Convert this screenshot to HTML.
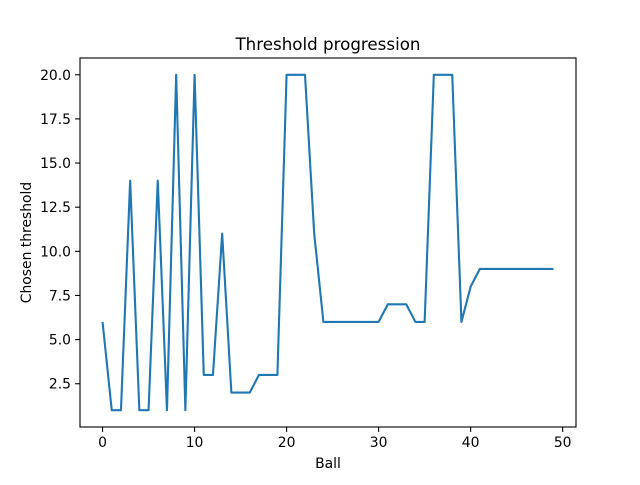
<!DOCTYPE html>
<html><head><meta charset="utf-8"><style>
body{margin:0;background:#fff;}
svg text{font-family:"DejaVu Sans","Liberation Sans",sans-serif;fill:#000;}
</style></head><body>
<svg id="chart" width="640" height="480">
<rect width="640" height="480" fill="#fff"/>
<text x="328" y="50" font-size="16.7" text-anchor="middle">Threshold progression</text>
<g id="ticks"></g>
<path id="line" fill="none" stroke="#1f77b4" stroke-width="2.1" stroke-linejoin="round"/>
<rect x="80" y="58" width="496" height="369" fill="none" stroke="#000" stroke-width="1.1"/>
<text x="328" y="468" font-size="13.9" text-anchor="middle">Ball</text>
<text transform="translate(31,242.5) rotate(-90)" font-size="13.9" text-anchor="middle">Chosen threshold</text>
</svg>
<script>
const thresholds=[6,1,1,14,1,1,14,1,20,1,20,3,3,11,2,2,2,3,3,3,20,20,20,11,6,6,6,6,6,6,6,7,7,7,6,6,20,20,20,6,8,9,9,9,9,9,9,9,9,9];
const xTicks=[0,10,20,30,40,50];
const yTicks=[2.5,5.0,7.5,10.0,12.5,15.0,17.5,20.0];
const L=80,R=576,T=58,B=427;
const xmin=-2.45,xmax=51.45,ymin=0.05,ymax=20.95;
const sx=v=>L+(v-xmin)/(xmax-xmin)*(R-L);
const sy=v=>B-(v-ymin)/(ymax-ymin)*(B-T);
const ns="http://www.w3.org/2000/svg";
document.getElementById('line').setAttribute('d',thresholds.map((v,i)=>(i?'L':'M')+sx(i).toFixed(2)+' '+sy(v).toFixed(2)).join(' '));
const g=document.getElementById('ticks');
xTicks.forEach(t=>{
  const l=document.createElementNS(ns,'line');
  l.setAttribute('x1',sx(t));l.setAttribute('x2',sx(t));l.setAttribute('y1',B);l.setAttribute('y2',B+4.9);
  l.setAttribute('stroke','#000');l.setAttribute('stroke-width','1.1');
  
  
  g.appendChild(l);
  const tx=document.createElementNS(ns,'text');
  tx.setAttribute('x',sx(t));tx.setAttribute('y',B+20);tx.setAttribute('font-size','13.9');tx.setAttribute('text-anchor','middle');
  tx.textContent=t;
  
  
  g.appendChild(tx);
});
yTicks.forEach(t=>{
  const l=document.createElementNS(ns,'line');
  l.setAttribute('x1',L-4.9);l.setAttribute('x2',L);l.setAttribute('y1',sy(t));l.setAttribute('y2',sy(t));
  l.setAttribute('stroke','#000');l.setAttribute('stroke-width','1.1');
  
  
  g.appendChild(l);
  const tx=document.createElementNS(ns,'text');
  tx.setAttribute('x',L-9);tx.setAttribute('y',sy(t)+5);tx.setAttribute('font-size','13.9');tx.setAttribute('text-anchor','end');
  tx.textContent=t.toFixed(1);
  
  
  g.appendChild(tx);
});
</script>
</body></html>
